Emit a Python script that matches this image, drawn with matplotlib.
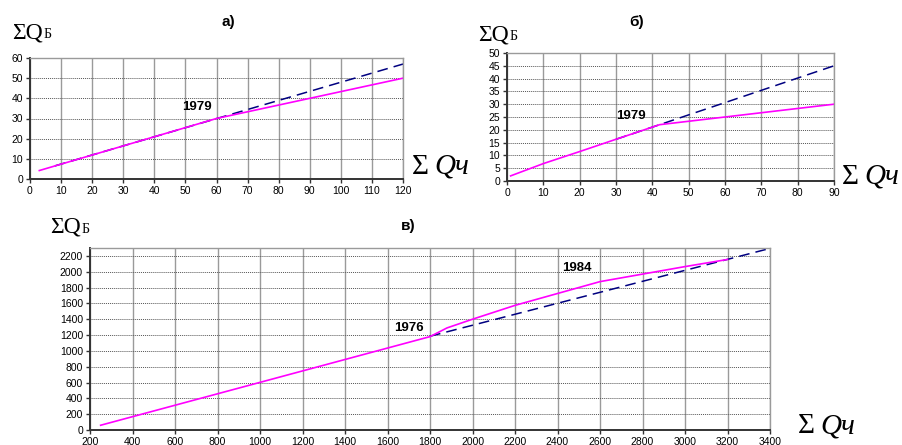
import numpy as np
import matplotlib.pyplot as plt

# panel a) cumulative curves
a_x = [3, 60, 120]
a_y = [4.2, 30, 50]
a_dash_x = [8, 120]
a_dash_y = [6.5, 57]

# panel б)
b_x = [1, 10, 20, 30, 42, 90]
b_y = [2, 6.8, 11.5, 16.3, 22, 30]
b_dash_x = [30, 42, 90]
b_dash_y = [16.3, 22, 45]

# panel в)
c_x = [250, 1800, 1880, 2000, 2200, 2600, 3000, 3200]
c_y = [60, 1180, 1290, 1400, 1575, 1875, 2065, 2155]
c_dash_x = [1800, 3400]
c_dash_y = [1185, 2295]

W, H = 902, 445
fig = plt.figure(figsize=(W / 100, H / 100), dpi=100)
SANS = 'Liberation Sans'
SERIF = 'Liberation Serif'


def box(l, t, r, b):
    return [l / W, 1 - b / H, (r - l) / W, (b - t) / H]


def style(ax, xt, yt, xlim, ylim):
    ax.set_xlim(*xlim)
    ax.set_ylim(*ylim)
    ax.set_xticks(xt)
    ax.set_yticks(yt)
    ax.grid(axis='x', color='#9a9a9a', lw=1.0, ls='-')
    ax.grid(axis='y', color='#555555', lw=0.7, ls=(0, (1, 1)))
    ax.set_axisbelow(True)
    for s in ['top', 'right']:
        ax.spines[s].set_color('#9a9a9a')
        ax.spines[s].set_linewidth(1.0)
    for s in ['left', 'bottom']:
        ax.spines[s].set_color('#333333')
        ax.spines[s].set_linewidth(1.4)
    ax.tick_params(direction='out', length=3, width=1, color='#333333',
                   labelsize=7.5, pad=2)
    for lab in ax.get_xticklabels() + ax.get_yticklabels():
        lab.set_fontfamily(SANS)


def draw(ax, x, y, dx, dy):
    ax.plot(dx, dy, color='#000080', lw=1.1, ls=(0, (7, 4)))
    ax.plot(x, y, color='#ff00ff', lw=1.2)


def px(x, y):
    return x / W, 1 - y / H


renderer = fig.canvas.get_renderer()


def label_b(x, y):
    # ΣQ with a small Б after it
    t = fig.text(*px(x, y), 'ΣQ', family=SERIF, fontsize=17, va='baseline')
    bb = t.get_window_extent(renderer)
    fig.text(bb.x1 / W + 1 / W, 1 - y / H, 'Б', family=SERIF, fontsize=10,
             va='baseline')


def label_q(x, y):
    # ΣQч, Q and ч in italics
    t = fig.text(*px(x, y), 'Σ', family=SERIF, fontsize=21, va='baseline')
    bb = t.get_window_extent(renderer)
    fig.text(bb.x1 / W + 5 / W, 1 - y / H, 'Qч', family=SERIF, style='italic',
             fontsize=21, va='baseline')


ax1 = fig.add_axes(box(30, 58, 403, 179))
style(ax1, np.arange(0, 121, 10), np.arange(0, 61, 10), (0, 120), (0, 60))
draw(ax1, a_x, a_y, a_dash_x, a_dash_y)
ax1.text(53.7, 35.7, '1979', family=SANS, fontweight='bold', fontsize=9.5,
         ha='center', va='center')

ax2 = fig.add_axes(box(507, 53, 834, 181))
style(ax2, np.arange(0, 91, 10), np.arange(0, 51, 5), (0, 90), (0, 50))
draw(ax2, b_x, b_y, b_dash_x, b_dash_y)
ax2.text(34.1, 25.4, '1979', family=SANS, fontweight='bold', fontsize=9.5,
         ha='center', va='center')

ax3 = fig.add_axes(box(90, 248, 770, 430))
style(ax3, np.arange(200, 3401, 200), np.arange(0, 2201, 200), (200, 3400), (0, 2300))
draw(ax3, c_x, c_y, c_dash_x, c_dash_y)
ax3.text(1701, 1283, '1976', family=SANS, fontweight='bold', fontsize=9.5,
         ha='center', va='center')
ax3.text(2492, 2050, '1984', family=SANS, fontweight='bold', fontsize=9.5,
         ha='center', va='center')

# panel titles
for tx, ty, s in [(228, 22, 'а)'), (637, 22, 'б)'), (408, 226, 'в)')]:
    fig.text(*px(tx, ty), s, family=SANS, fontweight='bold', fontsize=11,
             ha='center', va='center')

# axis captions
label_b(12, 38)
label_b(478, 40)
label_b(50, 233)
label_q(412, 174)
label_q(842, 184)
label_q(798, 433)

fig.savefig('out.png', dpi=100)
